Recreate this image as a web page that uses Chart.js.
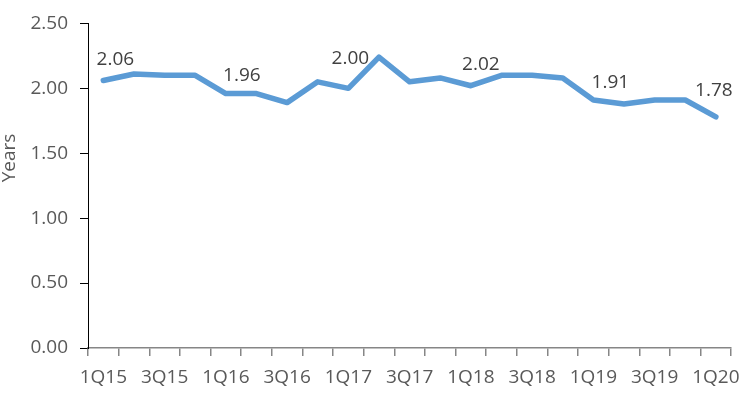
<!DOCTYPE html>
<html lang="en">
<head>
  <meta charset="UTF-8" />
  <title>Years</title>
  <script src="https://cdn.jsdelivr.net/npm/chart.js"></script>
  <style>
    html, body { margin: 0; padding: 0; background: #fff; }
    #wrap { width: 750px; height: 398px; }
  </style>
</head>
<body>
<div id="wrap"><canvas id="chart" width="750" height="398"></canvas></div>
<script>
// quarters 1Q15 .. 1Q20
const quarters = ['1Q15','2Q15','3Q15','4Q15','1Q16','2Q16','3Q16','4Q16','1Q17','2Q17','3Q17',
  '4Q17','1Q18','2Q18','3Q18','4Q18','1Q19','2Q19','3Q19','4Q19','1Q20'];
const years = [2.06, 2.11, 2.10, 2.10, 1.96, 1.96, 1.89, 2.05, 2.00, 2.24, 2.05,
  2.08, 2.02, 2.10, 2.10, 2.08, 1.91, 1.88, 1.91, 1.91, 1.78];
const yTicks = [0, 0.5, 1, 1.5, 2, 2.5];
const labelled = [0, 4, 8, 12, 16, 20];

const FONT = "'Open Sans', sans-serif";

// nudges for the value labels (dx, dy from point)
const labelNudge = { 0: [12, -21], 4: [16, -18], 8: [2, -30], 12: [10, -21], 16: [17, -17], 20: [-2, -26] };

const valueLabels = {
  id: 'valueLabels',
  afterDatasetsDraw(chart) {
    const ctx = chart.ctx;
    const meta = chart.getDatasetMeta(0);
    ctx.save();
    ctx.font = '19px ' + FONT;
    ctx.fillStyle = '#404040';
    ctx.textAlign = 'center';
    ctx.textBaseline = 'middle';
    labelled.forEach(i => {
      const pt = meta.data[i];
      const n = labelNudge[i];
      ctx.fillText(years[i].toFixed(2), pt.x + n[0], pt.y + n[1]);
    });
    // y axis title
    ctx.translate(10, 158);
    ctx.rotate(-Math.PI / 2);
    ctx.fillStyle = '#595959';
    ctx.fillText('Years', 0, 0);
    ctx.restore();
  }
};

new Chart(document.getElementById('chart'), {
  type: 'line',
  data: {
    labels: quarters,
    datasets: [{
      data: years,
      borderColor: '#5B9BD5',
      borderWidth: 5.5,
      borderJoinStyle: 'round',
      borderCapStyle: 'round',
      pointRadius: 0,
      tension: 0,
      fill: false
    }]
  },
  options: {
    responsive: false,
    animation: false,
    layout: { padding: { left: 0, top: 21, right: 18, bottom: 0 } },
    plugins: { legend: { display: false }, tooltip: { enabled: false } },
    scales: {
      x: {
        offset: true,
        grid: { offset: true, drawOnChartArea: false, drawTicks: true, tickLength: 8, color: '#868686', lineWidth: 1.5 },
        border: { color: '#868686', width: 1.5 },
        ticks: {
          autoSkip: false,
          maxRotation: 0,
          padding: 10,
          color: '#595959',
          font: { family: FONT, size: 19 },
          callback: (v, i) => (i % 2 === 0 ? quarters[i] : '')
        },
        afterFit: s => { s.height = 50; }
      },
      y: {
        min: 0,
        max: 2.5,
        afterBuildTicks: s => { s.ticks = yTicks.map(v => ({ value: v })); },
        grid: { drawOnChartArea: false, drawTicks: true, tickLength: 8, color: '#000' },
        border: { color: '#000', width: 1 },
        ticks: {
          padding: 12,
          color: '#595959',
          font: { family: FONT, size: 19 },
          callback: v => v.toFixed(2)
        },
        afterFit: s => { s.width = 88; }
      }
    }
  },
  plugins: [valueLabels]
});
</script>
</body>
</html>
